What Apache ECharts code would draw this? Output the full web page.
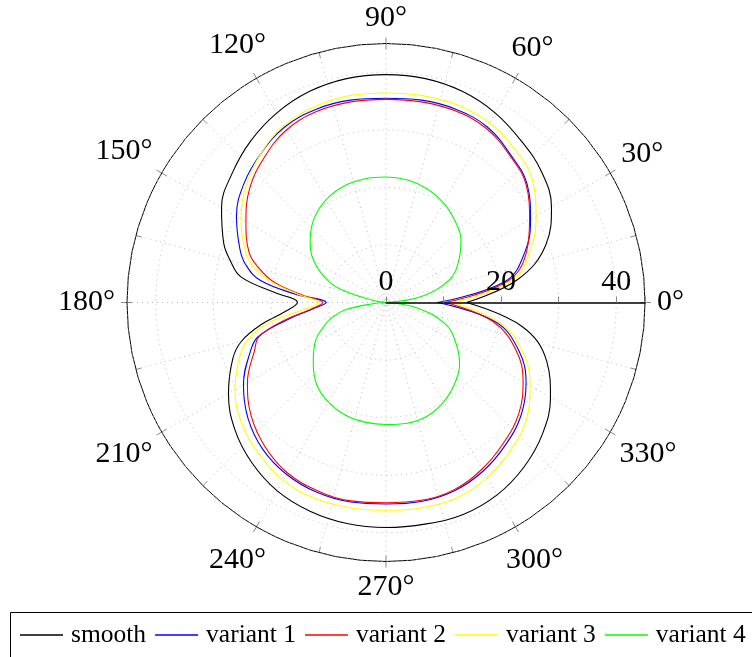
<!DOCTYPE html>
<html>
<head>
<meta charset="utf-8">
<script src="https://cdn.jsdelivr.net/npm/echarts@6/dist/echarts.min.js"></script>
<style>
html,body{margin:0;padding:0;background:#fff;}
#chart{width:752px;height:657px;}
</style>
</head>
<body>
<div id="chart"></div>
<script>
// angles in degrees
var angles = [0,10,20,30,40,50,60,70,80,90,100,110,120,130,140,150,160,165,170,175,180,185,190,195,200,210,220,230,240,250,260,270,280,290,300,310,320,330,340,350,360];
var smooth   = [14,23.3,29.6,33.2,35.3,36.6,38,39,39.5,39.6,39.5,39,38,36.6,34.9,33,30,28,25.6,19.3,15.4,17.5,22,26,28.3,31.6,34.3,36.3,37.8,38.6,39,39.1,39.1,39.2,38.6,37.3,35.5,33,29.7,24,14];
var variant1 = [8.9,21,25.7,29,32,33.6,35.2,35.7,35.7,35.5,35.7,35.7,35.2,33.8,32.2,30,27,25.2,22.2,15.5,10.4,12.8,17.5,23,25.1,28.6,31.3,33.3,34.5,35.1,35.2,35,35.1,34.8,33.8,32.3,30.6,28.1,24.6,19.3,8.9];
var variant2 = [10.3,21.5,26,28.8,31.8,33.4,34.9,35.4,35.4,35.3,35.4,35.3,34.6,32.9,30.9,28.1,25.3,22.8,19.5,14.5,11,13,18,22.8,24.3,27.8,30.6,32.7,34.2,34.8,35,34.8,34.9,34.6,33.4,31.8,30.1,27.5,24,18.8,10.3];
var variant3 = [11.4,22.3,26.7,30.1,33.2,34.8,36,36.5,36.5,36.4,36.5,36.2,35.5,33.8,31.7,29.1,26,23.8,20,15,11.7,14.5,21,24.8,27,30.3,32.7,34.3,35.7,36.2,36.2,36.1,36.2,36.1,35.1,33.6,31.8,28.9,25.3,20,11.4];
var variant4 = [0,6.5,11.8,14.6,17,18.6,20,21,21.6,21.8,21.8,21.5,20.7,19.3,17.2,14.5,10.5,7,2.5,0.5,0,2,7,9.5,11.3,14.3,16.5,18.7,20,20.8,21.1,21.2,21.3,21,20,18.5,16.7,14,11,5.5,0];
var seriesNames = ['smooth','variant 1','variant 2','variant 3','variant 4'];
var seriesColors = ['#000000','#0000ff','#ff0000','#ffff00','#00ff00'];
var seriesValues = [smooth, variant1, variant2, variant3, variant4];
var radiusTicks = [0,20,40];
var angleLabels = [0,30,60,90,120,150,180,210,240,270,300,330];

var FONT = 'Liberation Serif';
var LABEL_SIZE = 30;
var RMAX = 45;
var chart = echarts.init(document.getElementById('chart'));

function pairs(vals){
  return vals.map(function(r,i){ return [r, angles[i]]; });
}

var series = seriesNames.map(function(name, i){
  return {
    name: name,
    type: 'line',
    coordinateSystem: 'polar',
    polarIndex: 0,
    data: pairs(seriesValues[i]),
    symbol: 'none',
    showSymbol: false,
    smooth: 0.4,
    lineStyle: {color: seriesColors[i], width: 1.1},
    itemStyle: {color: seriesColors[i]},
    z: 3 + i,
    animation: false
  };
});

chart.setOption({
  animation: false,
  backgroundColor: '#fff',
  polar: [
    {center: [386, 302.5], radius: 259},
    {center: [386, 302.5], radius: 259}
  ],
  angleAxis: [{
    polarIndex: 0,
    type: 'value',
    min: 0, max: 360, interval: 15,
    startAngle: 0, clockwise: false,
    axisLine: {show: true, lineStyle: {color: '#000', width: 1}},
    axisTick: {show: true, inside: true, length: 6, lineStyle: {color: '#888', width: 1}},
    axisLabel: {show: false},
    splitLine: {show: true, lineStyle: {color: '#bbb', type: [1,4], width: 1}}
  }, {
    polarIndex: 1,
    type: 'value',
    min: 0, max: 360, interval: 30,
    startAngle: 0, clockwise: false,
    axisLine: {show: false},
    axisTick: {show: true, inside: false, length: 6, lineStyle: {color: '#888', width: 1}},
    axisLabel: {show: false},
    splitLine: {show: false}
  }],
  radiusAxis: [{
    polarIndex: 0,
    type: 'value', min: 0, max: RMAX, interval: 10,
    axisLine: {show: true, lineStyle: {color: '#000', width: 1.5}},
    axisTick: {show: true, length: 6, lineStyle: {color: '#888'}},
    axisLabel: {
      margin: 5, color: '#000', fontFamily: FONT, fontSize: LABEL_SIZE,
      formatter: function(v){ return radiusTicks.indexOf(v) >= 0 ? String(v) : ''; }
    },
    splitLine: {show: true, lineStyle: {color: '#bbb', type: [1,4], width: 1}},
    z: 10
  }, {
    polarIndex: 1,
    type: 'value', min: 0, max: RMAX, show: false
  }],
  legend: {
    left: 15, top: 617,
    icon: 'rect',
    itemWidth: 43, itemHeight: 1.3, itemGap: 9,
    textStyle: {fontFamily: FONT, fontSize: 25.5, color: '#000', padding: [0,0,0,3]},
    data: seriesNames
  },
  series: series
});

// angle labels placed pgfplots-style just outside the outer circle
var ctx = document.createElement('canvas').getContext('2d');
ctx.font = LABEL_SIZE + 'px "' + FONT + '"';
var graphics = [{
  type: 'rect',
  shape: {x: 10.5, y: 612.5, width: 800, height: 80},
  style: {fill: 'none', stroke: '#000', lineWidth: 1},
  z: 0
}];
var c = chart.convertToPixel({polarIndex: 0}, [0, 0]);
angleLabels.forEach(function(a){
  var txt = a + '°';
  var w = ctx.measureText(txt).width;
  var h = 27;
  var p = chart.convertToPixel({polarIndex: 0}, [RMAX, a]);
  var dx = p[0] - c[0], dy = p[1] - c[1];
  var len = Math.sqrt(dx*dx + dy*dy);
  var ux = dx / len, uy = dy / len;
  var d = 12 + (w/2) * Math.abs(ux) + (h/2) * Math.abs(uy);
  graphics.push({
    type: 'text',
    x: p[0] + ux * d, y: p[1] + uy * d,
    style: {text: txt, font: LABEL_SIZE + 'px "' + FONT + '"', fill: '#000', align: 'center', verticalAlign: 'middle'},
    z: 20
  });
});
chart.setOption({graphic: graphics});
</script>
</body>
</html>
